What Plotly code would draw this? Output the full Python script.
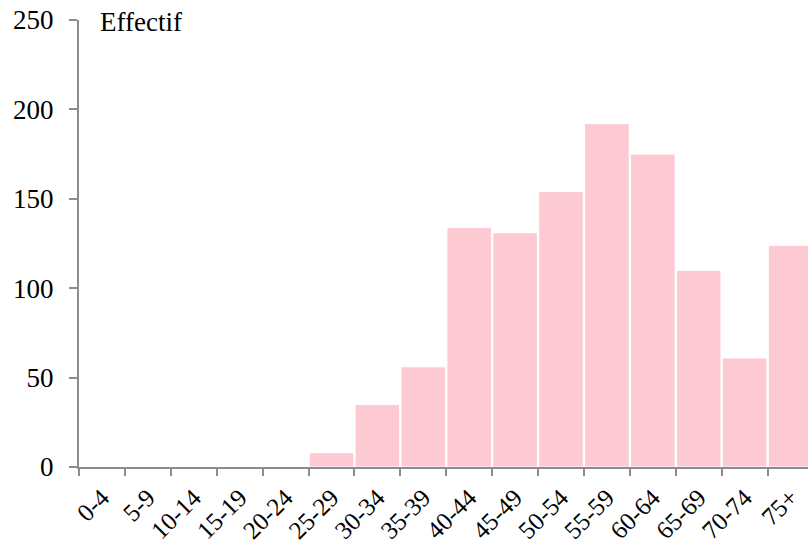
import plotly.graph_objects as go

age_groups = ["0-4", "5-9", "10-14", "15-19", "20-24", "25-29", "30-34", "35-39",
              "40-44", "45-49", "50-54", "55-59", "60-64", "65-69", "70-74", "75+"]
effectif = [0, 0, 0, 0, 0, 8, 35, 56, 134, 131, 154, 192, 175, 110, 61, 124]
y_ticks = [0, 50, 100, 150, 200, 250]

font_serif = "Liberation Serif, Times New Roman, serif"
axis_grey = "#8c8c8c"

fig = go.Figure()
fig.add_trace(go.Bar(
    x=age_groups, y=effectif,
    marker=dict(color="#fdc9d3", line=dict(color="white", width=1)),
))

fig.update_layout(
    width=808, height=544,
    margin=dict(l=79, r=0, t=20, b=77),
    plot_bgcolor="white", paper_bgcolor="white",
    bargap=0.03, showlegend=False,
    font=dict(family=font_serif, color="black"),
    annotations=[dict(
        text="Effectif", xref="paper", yref="paper", x=0.026, y=0.995,
        xanchor="left", yanchor="middle", showarrow=False,
        font=dict(size=27, family=font_serif, color="black"),
    )],
)
fig.update_xaxes(
    type="category", range=[-0.5, 15.38], automargin=False,
    showline=True, linecolor=axis_grey, linewidth=2,
    ticks="outside", tickson="boundaries", ticklen=7, tickwidth=2, tickcolor=axis_grey,
    tickangle=-45, tickfont=dict(size=25), ticklabelstandoff=4, showgrid=False,
)
fig.update_yaxes(
    range=[0, 250], tickvals=y_ticks, automargin=False,
    showline=True, linecolor=axis_grey, linewidth=2,
    ticks="outside", ticklen=8, tickwidth=2, tickcolor=axis_grey,
    tickfont=dict(size=27), ticklabelstandoff=10, showgrid=False, zeroline=False,
)

fig.write_html("out.html", config={"displayModeBar": False},
               post_script="document.body.style.margin = '0';")
